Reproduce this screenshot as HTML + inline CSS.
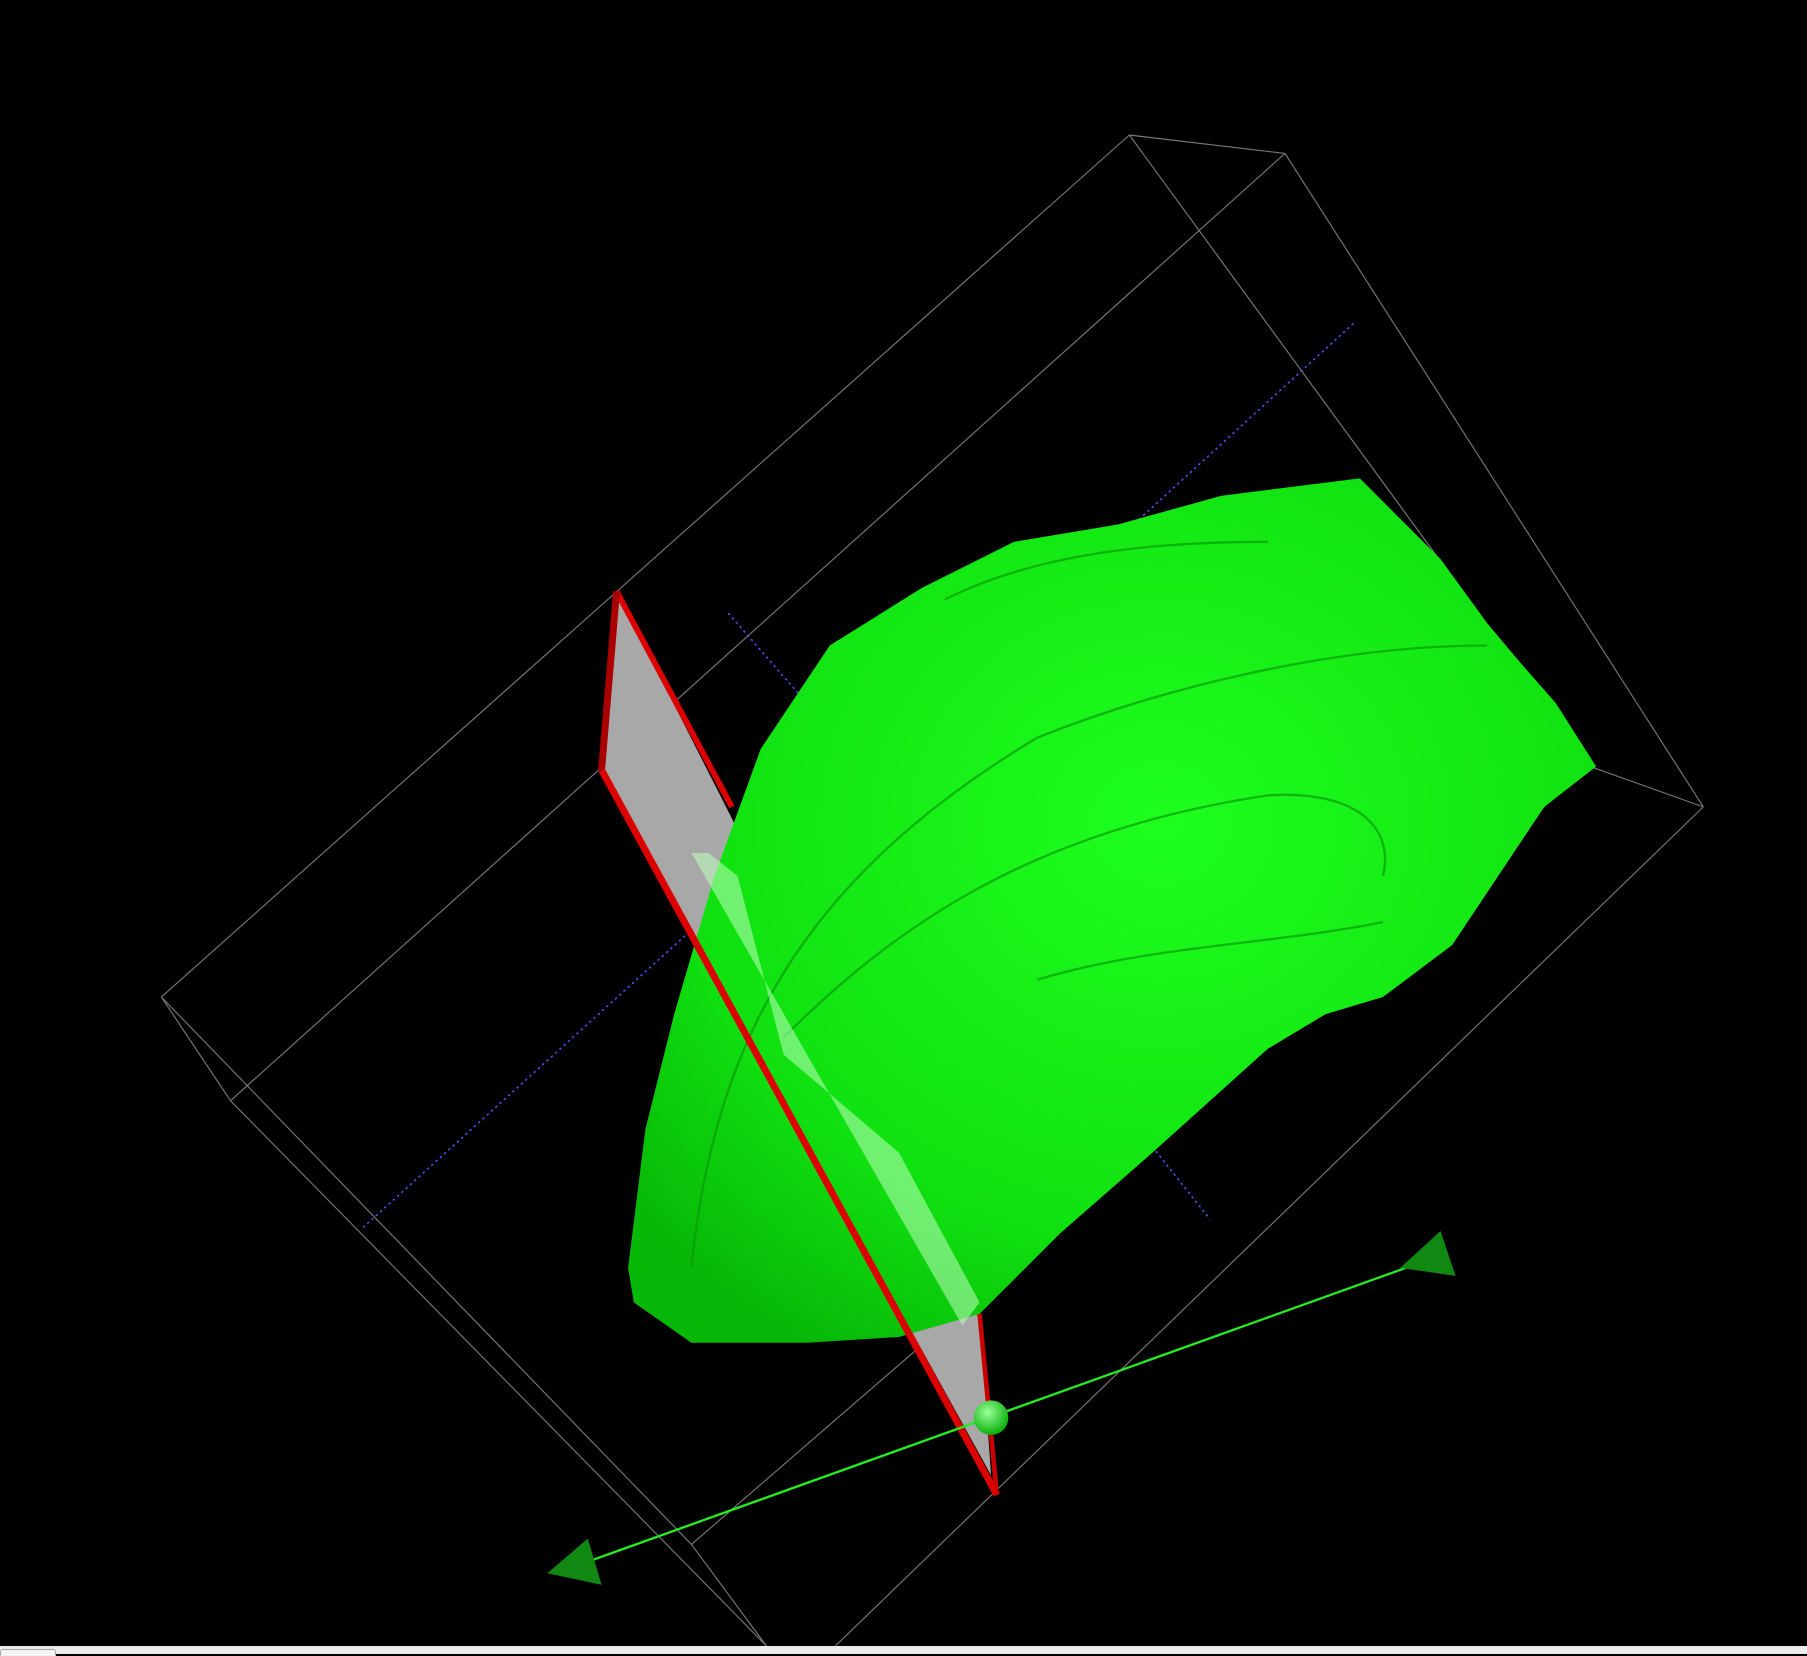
<!DOCTYPE html>
<html><head><meta charset="utf-8"><style>
html,body{margin:0;padding:0;background:#000;width:1807px;height:1654px;overflow:hidden;font-family:"Liberation Sans",sans-serif}
#bar{position:absolute;left:0;top:1646px;width:1807px;height:8px;background:#ececec}
#tab{position:absolute;left:0;top:1649px;width:54px;height:6px;border:1px solid #aaa;border-bottom:none;border-radius:3px 3px 0 0;background:#f4f4f4}
</style></head><body>
<svg width="1807" height="1646" viewBox="0 0 1568 1428" style="position:absolute;left:0;top:0">
<defs>
<radialGradient id="g1" cx="0.55" cy="0.4" r="0.7"><stop offset="0" stop-color="#1eff1e"/><stop offset="0.7" stop-color="#10e010"/><stop offset="1" stop-color="#08b808"/></radialGradient>
<radialGradient id="sp" cx="0.4" cy="0.35" r="0.7"><stop offset="0" stop-color="#9f9"/><stop offset="1" stop-color="#0a0"/></radialGradient>
</defs>
<g stroke="#777" stroke-width="1" fill="none">
<line x1="140" y1="865" x2="980" y2="117"/>
<line x1="980" y1="117" x2="1115" y2="133"/>
<line x1="1115" y1="133" x2="1478" y2="700"/>
<line x1="1478" y1="700" x2="725" y2="1428"/>
<line x1="140" y1="865" x2="200" y2="955"/>
<line x1="200" y1="955" x2="1115" y2="133"/>
<line x1="200" y1="955" x2="665" y2="1428"/>
<line x1="140" y1="865" x2="600" y2="1340"/>
<line x1="600" y1="1340" x2="1380" y2="665"/>
<line x1="1380" y1="665" x2="1478" y2="700"/>
<line x1="1380" y1="665" x2="980" y2="117"/>
<line x1="600" y1="1340" x2="665" y2="1428"/>
</g>
<g stroke="#5555ff" stroke-width="1.3" stroke-dasharray="2,3">
<line x1="315" y1="1065" x2="740" y2="680"/>
<line x1="885" y1="545" x2="1175" y2="280"/>
<line x1="632" y1="532" x2="770" y2="690"/>
<line x1="885" y1="850" x2="1050" y2="1058"/>
</g>
<polygon fill="#a8a8a8" points="535,513 522,668 860,1280 850,1140 630,700"/>
<line x1="535" y1="513" x2="635" y2="700" stroke="#dd0000" stroke-width="5"/>
<polygon fill="url(#g1)" points="545,1100 560,980 585,880 620,760 660,650 720,560 800,510 880,470 970,455 1060,430 1180,415 1220,455 1250,485 1290,540 1315,570 1350,610 1385,665 1340,700 1300,760 1260,820 1200,865 1150,880 1100,910 1000,1000 920,1070 850,1140 780,1160 700,1165 600,1165 550,1130"/>
<g fill="none" stroke="#0a9a0a" stroke-width="2" opacity="0.7">
<path d="M600,1100 C620,900 700,760 900,640 C1000,600 1150,560 1290,560"/>
<path d="M680,900 C780,800 900,720 1100,690 C1180,685 1210,720 1200,760"/>
<path d="M900,850 C1000,820 1100,820 1200,800"/>
<path d="M820,520 C900,480 1000,470 1100,470"/>
</g>
<polygon fill="#bfffbf" opacity="0.55" points="615,740 640,760 680,915 780,1000 850,1130 835,1150 600,740"/>
<line x1="535" y1="513" x2="522" y2="668" stroke="#aa0000" stroke-width="6"/>
<line x1="522" y1="668" x2="865" y2="1297" stroke="#dd0000" stroke-width="6"/>
<line x1="850" y1="1140" x2="865" y2="1297" stroke="#cc0000" stroke-width="4"/>
<line x1="510" y1="1355" x2="1220" y2="1100" stroke="#22ee22" stroke-width="2"/>
<polygon fill="#118811" points="475,1365 510,1335 522,1375"/>
<polygon fill="#118811" points="1250,1068 1263,1107 1215,1100"/>
<circle cx="860" cy="1230" r="15" fill="url(#sp)"/>
</svg>
<div id="bar"></div>
<div id="tab"></div>
</body></html>
